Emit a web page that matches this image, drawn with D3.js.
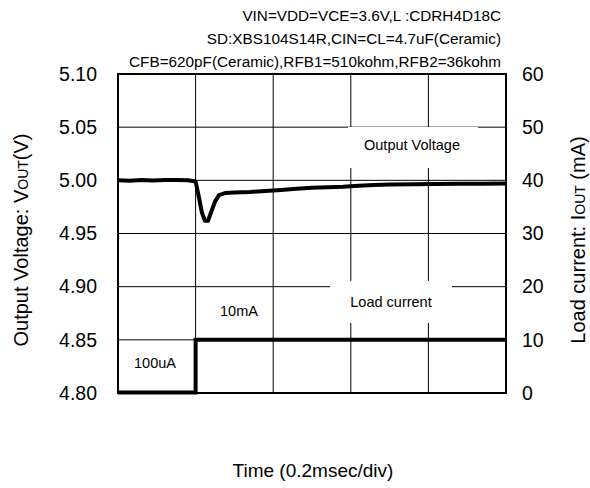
<!DOCTYPE html>
<html><head><meta charset="utf-8">
<script src="https://cdn.jsdelivr.net/npm/d3@7"></script>
<style>body{margin:0;background:#fff}svg{display:block;font-family:"Liberation Sans",Arial,sans-serif}</style>
</head><body><svg id="c" width="590" height="488"></svg>
<script>
const titleLines = ["VIN=VDD=VCE=3.6V,L :CDRH4D18C","SD:XBS104S14R,CIN=CL=4.7uF(Ceramic)","CFB=620pF(Ceramic),RFB1=510kohm,RFB2=36kohm"];
const voltTicks = [4.80,4.85,4.90,4.95,5.00,5.05,5.10];
const currTicks = [0,10,20,30,40,50,60];
const timeDivs = [0,1,2,3,4,5];
const voltT = [0,0.15,0.3,0.45,0.6,0.75,0.9,1.0,1.04,1.08,1.12,1.16,1.2,1.25,1.3,1.38,1.5,1.7,1.9,2.1,2.3,2.5,2.7,2.9,3.1,3.3,3.5,3.8,4.1,4.4,4.7,5.0];
const voltV = [5.000,4.9995,5.0003,4.9998,5.0002,5.0004,5.000,4.999,4.985,4.970,4.962,4.962,4.970,4.980,4.986,4.988,4.9885,4.989,4.990,4.991,4.992,4.993,4.9935,4.994,4.995,4.9955,4.996,4.9962,4.9965,4.9967,4.9968,4.997];
const currT = [0,1.0,1.0,5.0];
const currI = [0.1,0.1,10,10];

const svg = d3.select("#c");
const L=118,R=506,T=74,B=393;
const x = d3.scaleLinear().domain([0,5]).range([L,R]);
const yV = d3.scaleLinear().domain([4.80,5.10]).range([B,T]);
const yI = d3.scaleLinear().domain([0,60]).range([B,T]);

// grid
svg.append("g").selectAll("line").data(timeDivs.slice(1,-1)).join("line")
  .attr("x1",d=>x(d)).attr("x2",d=>x(d)).attr("y1",T).attr("y2",B)
  .attr("stroke","#000").attr("stroke-width",1);
svg.append("g").selectAll("line").data(voltTicks.slice(1,-1)).join("line")
  .attr("x1",L).attr("x2",R).attr("y1",d=>yV(d)).attr("y2",d=>yV(d))
  .attr("stroke","#000").attr("stroke-width",1);

// label boxes
svg.append("rect").attr("x",348).attr("y",127).attr("width",130).attr("height",41).attr("fill","#fff");
svg.append("rect").attr("x",330).attr("y",281).attr("width",122).attr("height",42).attr("fill","#fff");
svg.append("text").attr("x",412).attr("y",150).attr("text-anchor","middle").attr("font-size",14.5).text("Output Voltage");
svg.append("text").attr("x",391).attr("y",307).attr("text-anchor","middle").attr("font-size",14.5).text("Load current");
svg.append("text").attr("x",239).attr("y",316).attr("text-anchor","middle").attr("font-size",14.5).text("10mA");
svg.append("text").attr("x",155).attr("y",368).attr("text-anchor","middle").attr("font-size",14.5).text("100uA");

// frame
svg.append("rect").attr("x",L).attr("y",T).attr("width",R-L).attr("height",B-T)
  .attr("fill","none").attr("stroke","#000").attr("stroke-width",2);

// axes
const ax1 = svg.append("g").attr("transform",`translate(${L},0)`)
  .call(d3.axisLeft(yV).tickValues(voltTicks).tickFormat(d3.format(".2f")).tickSize(0).tickPadding(21));
const ax2 = svg.append("g").attr("transform",`translate(${R},0)`)
  .call(d3.axisRight(yI).tickValues(currTicks).tickSize(0).tickPadding(16));
[ax1,ax2].forEach(a=>{a.select(".domain").remove();a.selectAll("text").attr("font-size",19.5).attr("fill","#000").attr("font-family","Liberation Sans, Arial, sans-serif");});

// lines
svg.append("path").datum(voltT.map((t,i)=>[t,voltV[i]]))
  .attr("d",d3.line().x(d=>x(d[0])).y(d=>yV(d[1])))
  .attr("fill","none").attr("stroke","#000").attr("stroke-width",4).attr("stroke-linejoin","round");
svg.append("path").datum(currT.map((t,i)=>[t,currI[i]]))
  .attr("d",d3.line().x(d=>x(d[0])).y(d=>yI(d[1])))
  .attr("fill","none").attr("stroke","#000").attr("stroke-width",4);

// titles
const tt = svg.append("g");
titleLines.forEach((s,i)=>tt.append("text").attr("x",501).attr("y",21+i*23).attr("text-anchor","end").attr("font-size",15.3).text(s));

const lt = svg.append("text").attr("transform","translate(28,240) rotate(-90)").attr("text-anchor","middle").attr("font-size",20);
lt.append("tspan").text("Output Voltage: V");
lt.append("tspan").attr("font-size",14).text("OUT");
lt.append("tspan").text("(V)");
const rt = svg.append("text").attr("transform","translate(585,240) rotate(-90)").attr("text-anchor","middle").attr("font-size",20);
rt.append("tspan").text("Load current: I");
rt.append("tspan").attr("font-size",14).text("OUT");
rt.append("tspan").text(" (mA)");

svg.append("text").attr("x",313).attr("y",477).attr("text-anchor","middle").attr("font-size",19).text("Time (0.2msec/div)");
</script></body></html>
